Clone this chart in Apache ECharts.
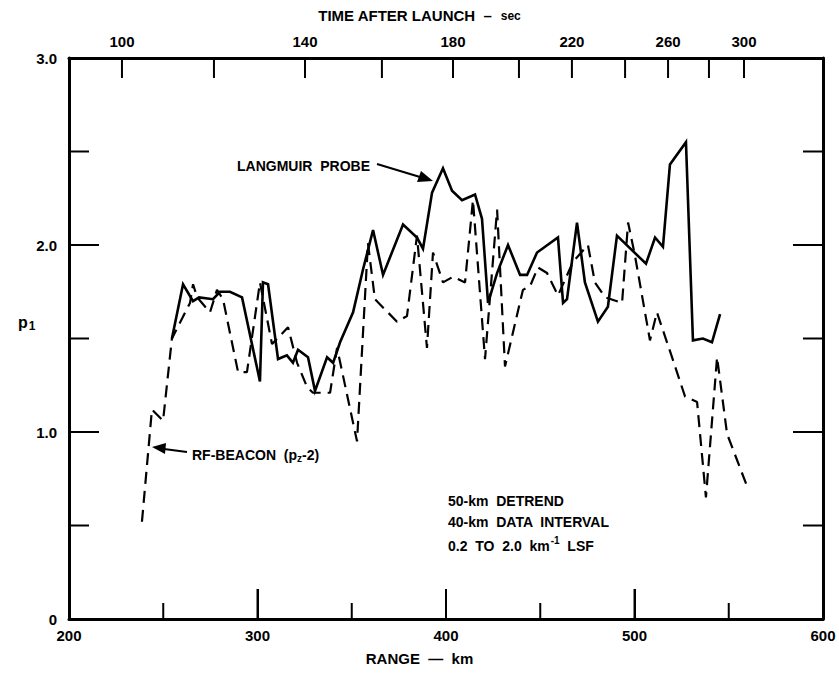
<!DOCTYPE html>
<html>
<head>
<meta charset="utf-8">
<script src="https://cdn.jsdelivr.net/npm/echarts@6/dist/echarts.min.js"></script>
<style>
html,body{margin:0;padding:0;background:#fff;}
#chart{width:839px;height:677px;}
</style>
</head>
<body>
<div id="chart"></div>
<script>
// ---- data ----
var rangeTicks = [200, 300, 400, 500, 600];
var rangeMinorTicks = [250, 350, 450, 550];
var pTicks = [0, 1.0, 2.0, 3.0];
var pMinorTicks = [0.5, 1.5, 2.5];
// Top axis: time after launch (s) and the range (km) where each tick falls
var timeTicks = [100, 120, 140, 160, 180, 200, 220, 240, 260, 280, 300];
var timeTickKm = [228.1, 276.9, 325.2, 366.0, 403.7, 438.7, 466.8, 495.0, 517.8, 539.5, 558.1];
var timeLabels = [100, 140, 180, 220, 260, 300];

// LANGMUIR PROBE (solid)
var langKm = [254.6, 260.5, 265.8, 269.0, 276.4, 280.1, 285.4, 291.8, 301.3, 302.9, 305.6, 310.9, 315.6, 318.8, 321.5, 326.8, 330.5, 336.9, 340.1, 343.8, 350.7, 356.0, 361.3, 366.6, 377.2, 384.6, 387.8, 392.6, 398.4, 403.2, 408.5, 415.4, 419.1, 422.3, 427.1, 432.9, 439.3, 443.0, 448.3, 459.4, 462.1, 464.2, 469.5, 473.7, 480.6, 485.9, 490.7, 506.1, 510.9, 515.1, 518.8, 527.3, 531.0, 536.3, 541.1, 545.4];
var langP = [1.50, 1.79, 1.70, 1.72, 1.71, 1.75, 1.75, 1.72, 1.27, 1.80, 1.79, 1.39, 1.41, 1.37, 1.44, 1.40, 1.22, 1.40, 1.37, 1.48, 1.64, 1.87, 2.08, 1.84, 2.11, 2.04, 1.98, 2.28, 2.41, 2.29, 2.24, 2.27, 2.14, 1.69, 1.85, 2.00, 1.84, 1.84, 1.96, 2.04, 1.69, 1.71, 2.12, 1.80, 1.59, 1.67, 2.05, 1.90, 2.04, 1.99, 2.43, 2.55, 1.49, 1.50, 1.48, 1.63];

// RF-BEACON (pz-2) (dashed)
var beaconKm = [238.7, 244.0, 249.9, 254.6, 264.2, 265.8, 268.0, 274.8, 278.5, 281.7, 289.7, 294.4, 301.3, 307.7, 316.2, 321.0, 326.3, 329.4, 338.5, 342.2, 352.8, 358.6, 362.3, 374.0, 379.3, 384.6, 389.9, 393.1, 398.4, 403.7, 410.1, 414.3, 420.7, 427.1, 431.3, 440.8, 444.6, 448.8, 453.6, 459.4, 467.4, 475.3, 479.0, 484.4, 493.4, 496.6, 500.3, 508.2, 511.9, 519.9, 526.8, 533.2, 537.9, 543.8, 549.1, 559.7];
var beaconP = [0.52, 1.12, 1.06, 1.50, 1.69, 1.79, 1.72, 1.64, 1.76, 1.71, 1.32, 1.32, 1.80, 1.47, 1.56, 1.37, 1.24, 1.21, 1.21, 1.45, 0.95, 2.01, 1.71, 1.59, 1.62, 2.05, 1.45, 1.96, 1.80, 1.83, 1.80, 2.24, 1.39, 2.19, 1.35, 1.76, 1.78, 1.88, 1.85, 1.73, 1.91, 2.00, 1.80, 1.72, 1.69, 2.12, 1.94, 1.49, 1.64, 1.40, 1.19, 1.16, 0.65, 1.40, 0.99, 0.71];

function zip(a, b) { return a.map(function (v, i) { return [v, b[i]]; }); }

var FONT = '"Liberation Sans", Arial, sans-serif';
var chart = echarts.init(document.getElementById('chart'), null, { renderer: 'svg' });

var axisLineStyle = { color: '#000', width: 3 };
var tickLine = { color: '#000', width: 2 };
var labelStyle = { color: '#000', fontFamily: FONT, fontWeight: 'bold', fontSize: 15 };

var option = {
  backgroundColor: '#fff',
  animation: false,
  grid: { left: 69, right: 16, top: 58, bottom: 58, containLabel: false },
  xAxis: [
    {
      type: 'value', position: 'bottom', min: 200, max: 600,
      axisLine: { show: true, onZero: false, lineStyle: axisLineStyle },
      axisTick: { show: true, inside: true, length: 30, customValues: rangeTicks, lineStyle: tickLine },
      splitLine: { show: false },
      axisLabel: Object.assign({ margin: 9, customValues: rangeTicks, formatter: function (v) { return String(v); } }, labelStyle)
    },
    {
      type: 'value', position: 'top', min: 200, max: 600,
      axisLine: { show: true, onZero: false, lineStyle: axisLineStyle },
      axisTick: { show: false }, splitLine: { show: false },
      axisLabel: Object.assign({
        margin: 9,
        customValues: timeLabels.map(function (t) { return timeTickKm[timeTicks.indexOf(t)]; }),
        formatter: function (v) { var i = timeTickKm.indexOf(v); return i >= 0 ? String(timeTicks[i]) : ''; }
      }, labelStyle)
    }
  ],
  yAxis: [
    {
      type: 'value', position: 'left', min: 0, max: 3, interval: 1,
      axisLine: { show: true, onZero: false, lineStyle: axisLineStyle },
      axisTick: { show: false }, splitLine: { show: false },
      axisLabel: Object.assign({ margin: 12, formatter: function (v) { return v === 0 ? '0' : v.toFixed(1); } }, labelStyle)
    },
    {
      type: 'value', position: 'right', min: 0, max: 3, interval: 1,
      axisLine: { show: true, onZero: false, lineStyle: axisLineStyle },
      axisTick: { show: false }, splitLine: { show: false }, axisLabel: { show: false }
    }
  ],
  series: [
    {
      name: 'LANGMUIR PROBE', type: 'line', xAxisIndex: 0, yAxisIndex: 0,
      data: zip(langKm, langP), showSymbol: false, symbol: 'none',
      lineStyle: { color: '#000', width: 2.6, join: 'miter' }
    },
    {
      name: 'RF-BEACON', type: 'line', xAxisIndex: 0, yAxisIndex: 0,
      data: zip(beaconKm, beaconP), showSymbol: false, symbol: 'none',
      lineStyle: { color: '#000', width: 2.2, type: [12, 7] }
    }
  ]
};
chart.setOption(option);

// Inward tick marks (filled bars), positioned through the chart's own scales,
// using interior reference points only.
var finder = { xAxisIndex: 0, yAxisIndex: 0 };
function px(x, y) { return chart.convertToPixel(finder, [x, y]); }
var y05 = px(400, 0.5)[1], y15 = px(400, 1.5)[1], y25 = px(400, 2.5)[1];
var yBottom = y05 + (y05 - y15) / 2;
var yTop = y25 - (y15 - y25) / 2;
var xLeft = px(200, 1.5)[0], xRight = px(600, 1.5)[0];
var tickEls = [];
function addTicks(values, side, len) {
  values.forEach(function (v) {
    var r, x, y;
    if (side === 'bottom') { x = px(v, 1.5)[0]; r = { x: x - 1, y: yBottom - len, width: 2, height: len }; }
    else if (side === 'top') { x = px(v, 1.5)[0]; r = { x: x - 1, y: yTop, width: 2, height: len }; }
    else if (side === 'left') { y = px(400, v)[1]; r = { x: xLeft, y: y - 1, width: len, height: 2 }; }
    else { y = px(400, v)[1]; r = { x: xRight - len, y: y - 1, width: len, height: 2 }; }
    tickEls.push({ type: 'rect', silent: true, z: 10, shape: r, style: { fill: '#000' } });
  });
}
addTicks(rangeTicks.slice(1, -1), 'bottom', 30);
addTicks(rangeMinorTicks, 'bottom', 16);
addTicks(timeTickKm, 'top', 20);
addTicks(pTicks.slice(1, -1), 'left', 30);
addTicks(pMinorTicks, 'left', 20);
addTicks(pTicks.slice(1, -1), 'right', 30);
addTicks(pMinorTicks, 'right', 20);

var textEls = [
  { type: 'text', left: 'center', top: 8, style: { text: '{a|TIME AFTER LAUNCH  –  }{b|sec}', rich: { a: { fontFamily: FONT, fontSize: 15, fontWeight: 'bold', fill: '#000' }, b: { fontFamily: FONT, fontSize: 12, fontWeight: 'bold', fill: '#000' } } } },
  { type: 'text', left: 'center', top: 651, style: { text: '{a|RANGE  —  km}', rich: { a: { fontFamily: FONT, fontSize: 15, fontWeight: 'bold', fill: '#000' } } } },
  { type: 'text', x: 18, y: 312, style: { text: '{a|p}{s|1}', rich: { a: { fontFamily: FONT, fontSize: 16, fontWeight: 'bold', fill: '#000' }, s: { fontFamily: FONT, fontSize: 12, fontWeight: 'bold', fill: '#000', padding: [8, 0, 0, 1] } } } },
  { type: 'text', x: 237, y: 159, style: { text: 'LANGMUIR  PROBE', fontFamily: FONT, fontSize: 14, fontWeight: 'bold', fill: '#000' } },
  { type: 'line', shape: { x1: 377, y1: 164, x2: 420, y2: 177 }, style: { stroke: '#000', lineWidth: 2 } },
  { type: 'polygon', shape: { points: [[433, 181], [417, 182], [421, 171]] }, style: { fill: '#000' } },
  { type: 'text', x: 192, y: 446, style: { text: '{a|RF-BEACON  (p}{s|z}{a|-2)}', rich: { a: { fontFamily: FONT, fontSize: 14, fontWeight: 'bold', fill: '#000' }, s: { fontFamily: FONT, fontSize: 10, fontWeight: 'bold', fill: '#000', padding: [7, 0, 0, 0] } } } },
  { type: 'line', shape: { x1: 187, y1: 452, x2: 164, y2: 449 }, style: { stroke: '#000', lineWidth: 2 } },
  { type: 'polygon', shape: { points: [[152, 447], [166, 443], [165, 454]] }, style: { fill: '#000' } },
  { type: 'text', x: 448, y: 494, style: { text: '50-km  DETREND', fontFamily: FONT, fontSize: 14, fontWeight: 'bold', fill: '#000' } },
  { type: 'text', x: 448, y: 515, style: { text: '40-km  DATA  INTERVAL', fontFamily: FONT, fontSize: 14, fontWeight: 'bold', fill: '#000' } },
  { type: 'text', x: 448, y: 533, style: { text: '{a|0.2  TO  2.0  km}{s|-1}{a|  LSF}', rich: { a: { fontFamily: FONT, fontSize: 14, fontWeight: 'bold', fill: '#000', padding: [6, 0, 0, 0] }, s: { fontFamily: FONT, fontSize: 10, fontWeight: 'bold', fill: '#000', padding: [0, 0, 6, 1] } } } }
];
chart.setOption({ graphic: textEls.concat(tickEls) });
</script>
</body>
</html>
